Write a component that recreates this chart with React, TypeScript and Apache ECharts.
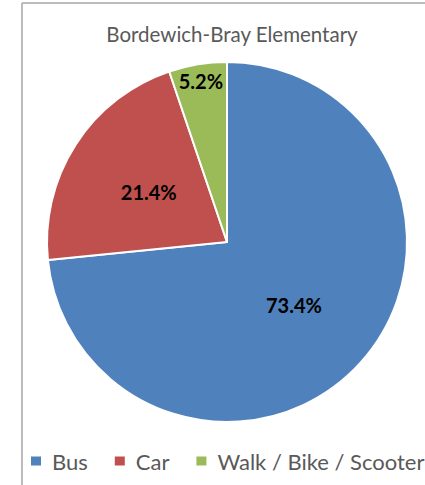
import React, { useEffect, useRef } from "react";
import * as echarts from "echarts";

const title = "Bordewich-Bray Elementary";
const categories = ["Bus", "Car", "Walk / Bike / Scooter"];
const values = [73.4, 21.4, 5.2];
const colors = ["#4F81BD", "#C0504D", "#9BBB59"];

export default function App() {
  const ref = useRef<HTMLDivElement>(null);
  useEffect(() => {
    document.body.style.margin = "0";
    const chart = echarts.init(ref.current!, null, { renderer: "svg" });
    chart.setOption({
      animation: false,
      title: {
        text: title,
        left: 227,
        top: 18,
        textAlign: "center",
        textStyle: { fontFamily: "Lato", fontSize: 20.5, fontWeight: "normal", color: "#595959" },
      },
      legend: {
        left: 29,
        top: 450,
        padding: 0,
        width: 700,
        orient: "horizontal",
        itemWidth: 12,
        itemHeight: 11,
        itemGap: 25,
        icon: "rect",
        data: categories,
        textStyle: { fontFamily: "Lato", fontSize: 22, color: "#595959", padding: [0, 0, 0, 5] },
      },
      graphic: [
        { type: "line", shape: { x1: 22, y1: 3, x2: 22, y2: 485 }, style: { stroke: "#a6a6a6", lineWidth: 1.5 } },
        { type: "line", shape: { x1: 22, y1: 3, x2: 425, y2: 3 }, style: { stroke: "#a6a6a6", lineWidth: 1.5 } },
      ],
      series: [
        {
          type: "pie",
          center: [227, 242],
          radius: 180,
          startAngle: 90,
          clockwise: true,
          data: categories.map((c, i) => ({ name: c, value: values[i], itemStyle: { color: colors[i] } })),
          itemStyle: { borderColor: "#ffffff", borderWidth: 2 },
          label: {
            show: true,
            position: "inside",
            formatter: (p: any) => p.value.toFixed(1) + "%",
            fontFamily: "Lato",
            fontWeight: "bold",
            fontSize: 20,
            color: "#000000",
          },
          labelLayout: (p: any) => {
            if (p.dataIndex === 2) return { dx: -11, dy: -69 };
            if (p.dataIndex === 0) return { dx: -2, dy: 1 };
            return {};
          },
          labelLine: { show: false },
          emphasis: { disabled: true },
        },
      ],
    });
    return () => chart.dispose();
  }, []);
  return <div ref={ref} style={{ width: 425, height: 485, position: "absolute", left: 0, top: 0 }} />;
}
